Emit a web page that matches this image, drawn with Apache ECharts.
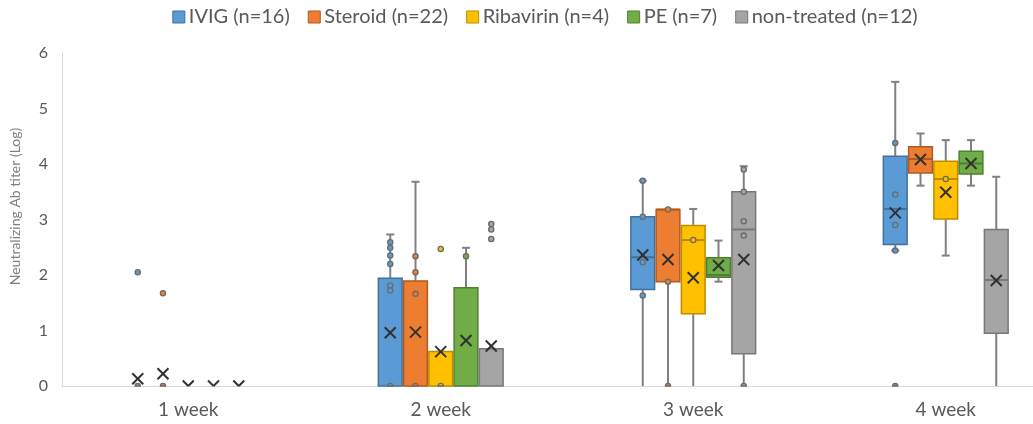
<!DOCTYPE html>
<html><head><meta charset="utf-8">
<script src="https://cdn.jsdelivr.net/npm/echarts@6/dist/echarts.min.js"></script>
<style>html,body{margin:0;padding:0;background:#fff;overflow:hidden;width:1033px;height:424px}#c{width:1090px;height:424px}</style>
</head><body><div id="c"></div>
<script>
const categories = ['1 week', '2 week', '3 week', '4 week'];
const seriesNames = ['IVIG (n=16)', 'Steroid (n=22)', 'Ribavirin (n=4)', 'PE (n=7)', 'non-treated (n=12)'];
const yTicks = [0, 1, 2, 3, 4, 5, 6];

// per week: [min, q1, median, q3, max, mean]
const ivigStats = [
  [0, 0, 0, 0, 0, 0.13],
  [0, 0, 0, 1.94, 2.73, 0.96],
  [0, 1.74, 2.32, 3.05, 3.70, 2.36],
  [2.44, 2.55, 3.19, 4.14, 5.48, 3.12]
];
const ivigPoints = [[0, 2.05], [0, 0], [1, 2.59], [1, 2.49], [1, 2.35], [1, 2.20], [1, 1.81], [1, 1.72], [1, 0],
  [2, 3.70], [2, 3.05], [2, 2.23], [2, 1.63], [3, 4.38], [3, 3.45], [3, 2.90], [3, 2.44], [3, 0]];

const steroidStats = [
  [0, 0, 0, 0, 0, 0.22],
  [0, 0, 0, 1.89, 3.68, 0.97],
  [0, 1.88, 3.18, 3.18, 3.18, 2.28],
  [3.61, 3.84, 4.09, 4.31, 4.55, 4.08]
];
const steroidPoints = [[0, 1.67], [0, 0], [1, 2.34], [1, 2.05], [1, 1.66], [1, 0], [2, 3.18], [2, 1.88], [2, 0]];

const ribavirinStats = [
  [0, 0, 0, 0, 0, 0],
  [0, 0, 0, 0.62, 0.62, 0.62],
  [0, 1.30, 2.63, 2.89, 3.19, 1.95],
  [2.35, 3.01, 3.73, 4.05, 4.43, 3.49]
];
const ribavirinPoints = [[1, 2.47], [1, 0], [2, 2.63], [3, 3.73]];

const peStats = [
  [0, 0, 0, 0, 0, 0],
  [0, 0, 0, 1.77, 2.49, 0.82],
  [1.88, 1.96, 2.00, 2.31, 2.62, 2.17],
  [3.61, 3.82, 4.01, 4.23, 4.43, 4.01]
];
const pePoints = [[1, 2.34]];

const nonTreatedStats = [
  [0, 0, 0, 0, 0, 0],
  [0, 0, 0, 0.67, 0.67, 0.72],
  [0, 0.58, 2.82, 3.50, 3.96, 2.28],
  [0, 0.95, 1.91, 2.82, 3.77, 1.90]
];
const nonTreatedPoints = [[1, 2.92], [1, 2.82], [1, 2.65], [2, 3.90], [2, 3.50], [2, 2.97], [2, 2.71], [2, 0]];

const allStats = [ivigStats, steroidStats, ribavirinStats, peStats, nonTreatedStats];
const allPoints = [ivigPoints, steroidPoints, ribavirinPoints, pePoints, nonTreatedPoints];
const fills = ['#5B9BD5', '#ED7D31', '#FFC000', '#70AD47', '#A5A5A5'];
const borders = ['#41719C', '#AE5A21', '#BC8C00', '#507E32', '#787878'];

const FONT = 'Lato';

// clip a segment to the plot's vertical extent
function clipSeg(x1, y1, x2, y2, top, bottom) {
  function cut(ax, ay, bx, by, yl) { const t = (yl - ay) / (by - ay); return [ax + t * (bx - ax), yl]; }
  if (y1 > bottom && y2 > bottom) return null;
  if (y1 > bottom) [x1, y1] = cut(x2, y2, x1, y1, bottom);
  if (y2 > bottom) [x2, y2] = cut(x1, y1, x2, y2, bottom);
  if (y1 < top && y2 < top) return null;
  if (y1 < top) [x1, y1] = cut(x2, y2, x1, y1, top);
  if (y2 < top) [x2, y2] = cut(x1, y1, x2, y2, top);
  return [x1, y1, x2, y2];
}

function boxRenderer(s) {
  return function (params, api) {
    const cat = api.value(0);
    const band = api.size([1, 0])[0];
    const cx = api.coord([cat, 0])[0] + (s - 2) * band * 0.1;
    const w = band * 0.094;
    const y = v => api.coord([cat, v])[1];
    const top = params.coordSys.y, bottom = params.coordSys.y + params.coordSys.height;
    const mn = y(api.value(1)), q1 = y(api.value(2)), md = y(api.value(3)),
          q3 = y(api.value(4)), mx = y(api.value(5)), mean = y(api.value(6));
    const wh = { stroke: '#808080', lineWidth: 2 };
    const cap = 4;
    const ch = [];
    const ln = (x1, y1, x2, y2, st) => {
      const c = clipSeg(x1, y1, x2, y2, top, bottom);
      if (c) ch.push({ type: 'line', shape: { x1: c[0], y1: c[1], x2: c[2], y2: c[3] }, style: st });
    };
    ln(cx, mx, cx, q3, wh);
    ln(cx, q1, cx, mn, wh);
    if (mx < bottom - 1) ln(cx - cap, mx, cx + cap, mx, wh);
    if (mn < bottom - 1) ln(cx - cap, mn, cx + cap, mn, wh);
    if (q1 - q3 > 0.5) {
      ch.push({ type: 'rect', shape: { x: cx - w / 2, y: q3, width: w, height: q1 - q3 },
        style: { fill: fills[s], stroke: borders[s], lineWidth: 1.5 } });
      if (md < bottom - 1) ln(cx - w / 2, md, cx + w / 2, md, { stroke: borders[s], lineWidth: 2 });
    }
    const m = 5.5;
    const xs = { stroke: '#303030', lineWidth: 2 };
    ln(cx - m, mean - m, cx + m, mean + m, xs);
    ln(cx - m, mean + m, cx + m, mean - m, xs);
    return { type: 'group', children: ch };
  };
}

function pointRenderer(s) {
  return function (params, api) {
    const cat = api.value(0);
    const band = api.size([1, 0])[0];
    const p = api.coord([cat, api.value(1)]);
    const cx = p[0] + (s - 2) * band * 0.1;
    const bottom = params.coordSys.y + params.coordSys.height;
    const style = { fill: fills[s], stroke: '#6a6a6a', lineWidth: 1.3 };
    if (p[1] >= bottom - 1) {
      return { type: 'sector', shape: { cx: cx, cy: bottom, r0: 0, r: 2.6, startAngle: Math.PI, endAngle: 2 * Math.PI }, style: style };
    }
    return { type: 'circle', shape: { cx: cx, cy: p[1], r: 2.6 }, style: style };
  };
}

const series = [];
seriesNames.forEach((name, s) => {
  series.push({
    type: 'custom', name: name,
    itemStyle: { color: fills[s], borderColor: borders[s], borderWidth: 1 },
    renderItem: boxRenderer(s),
    encode: { x: 0, y: [1, 2, 3, 4, 5, 6] },
    data: allStats[s].map((r, i) => [i].concat(r))
  });
  series.push({
    type: 'custom', name: name,
    itemStyle: { color: fills[s] },
    renderItem: pointRenderer(s),
    encode: { x: 0, y: 1 },
    data: allPoints[s]
  });
});

const chart = echarts.init(document.getElementById('c'), null, { renderer: 'canvas' });
chart.setOption({
  animation: false,
  textStyle: { fontFamily: FONT },
  legend: {
    top: 2, left: 'center',
    data: seriesNames.map((n, s) => ({ name: n, icon: 'rect',
      itemStyle: { color: fills[s], borderColor: borders[s], borderWidth: 1 } })),
    itemWidth: 12, itemHeight: 12, itemGap: 18,
    textStyle: { fontFamily: FONT, fontSize: 20, color: '#595959', padding: [0, 0, 0, -1] }
  },
  grid: { left: 61, top: 53, width: 1011, height: 333 },
  xAxis: {
    type: 'category', data: categories, boundaryGap: true,
    axisLine: { lineStyle: { color: '#d9d9d9', width: 1 } },
    axisTick: { show: false },
    axisLabel: { color: '#595959', fontSize: 19, fontFamily: FONT, margin: 14 },
    splitLine: { show: false }
  },
  yAxis: {
    type: 'value', min: yTicks[0], max: yTicks[yTicks.length - 1], interval: 1,
    axisLine: { show: true, lineStyle: { color: '#d9d9d9', width: 1 } },
    axisTick: { show: false },
    splitLine: { show: false },
    axisLabel: { color: '#595959', fontSize: 16, fontFamily: FONT, margin: 14 },
    name: 'Neutralizing Ab titer (Log)', nameLocation: 'middle', nameGap: 40, nameRotate: 90,
    nameTextStyle: { color: '#7f7f7f', fontSize: 14, fontFamily: FONT, padding: [0, 0, 0, 26] }
  },
  series: series
});
</script></body></html>
